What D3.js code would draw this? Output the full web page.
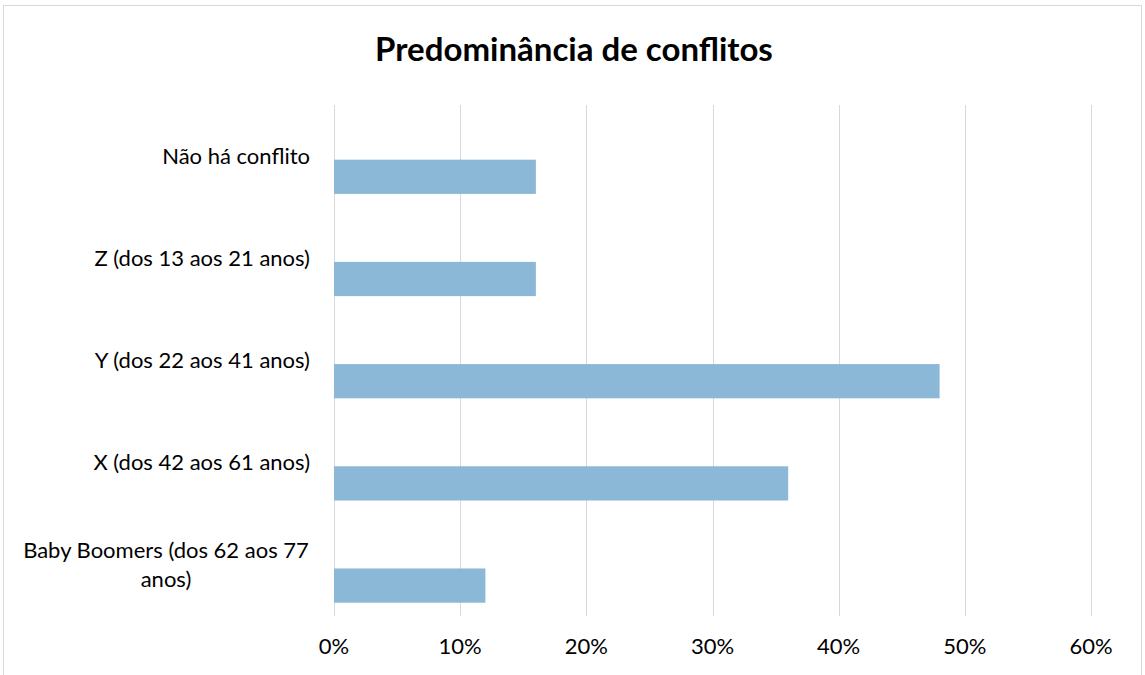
<!DOCTYPE html>
<html>
<head>
<meta charset="utf-8">
<script src="https://cdn.jsdelivr.net/npm/d3@7"></script>
<style>
  body { margin: 0; background: #fff; }
  text { font-family: Lato, "Open Sans", sans-serif; fill: #000; }
</style>
</head>
<body>
<div id="chart"></div>
<script>
var categories = [
  "Não há conflito",
  "Z (dos 13 aos 21 anos)",
  "Y (dos 22 aos 41 anos)",
  "X (dos 42 aos 61 anos)",
  "Baby Boomers (dos 62 aos 77 anos)"
]
var values = [0.16, 0.16, 0.48, 0.36, 0.12]
var ticks = [0, 0.1, 0.2, 0.3, 0.4, 0.5, 0.6]
var title = "Predominância de conflitos"

var width = 1145,
  height = 675

var svg = d3.select("#chart")
  .append("svg")
  .attr("width", width)
  .attr("height", height)

// chart border
svg.append("rect")
  .attr("x", 3.5)
  .attr("y", 5.5)
  .attr("width", 1138)
  .attr("height", 690)
  .attr("fill", "none")
  .attr("stroke", "#d9d9d9")

svg.append("text")
  .attr("x", 574)
  .attr("y", 61)
  .attr("text-anchor", "middle")
  .style("font-size", "33px")
  .style("font-weight", "bold")
  .text(title)

var x = d3.scaleLinear().domain([0, 0.6]).range([334, 1091])
var y = d3.scaleBand().domain(categories).range([105, 616])

svg.selectAll(".grid")
  .data(ticks)
  .enter().append("line")
  .attr("class", "grid")
  .attr("x1", function(d) { return Math.round(x(d)) + 0.5 })
  .attr("x2", function(d) { return Math.round(x(d)) + 0.5 })
  .attr("y1", 105)
  .attr("y2", 616)
  .attr("stroke", "#d9d9d9")
  .attr("stroke-width", 1)

svg.selectAll(".tick-label")
  .data(ticks)
  .enter().append("text")
  .attr("class", "tick-label")
  .attr("x", function(d) { return x(d) })
  .attr("y", 654)
  .attr("text-anchor", "middle")
  .style("font-size", "22px")
  .text(d3.format(".0%"))

var bw = y.bandwidth()

svg.selectAll(".bar")
  .data(values)
  .enter().append("rect")
  .attr("class", "bar")
  .attr("x", x(0))
  .attr("y", function(d, i) { return y(categories[i]) + bw * 0.535 })
  .attr("width", function(d) { return x(d) - x(0) })
  .attr("height", bw * 0.335)
  .attr("fill", "#8ab8d6")

// category labels, wrapped like the original
var lines = {
  "Baby Boomers (dos 62 aos 77 anos)": ["Baby Boomers (dos 62 aos 77", "anos)"]
}

categories.forEach(function(c) {
  var ls = lines[c] || [c]
  var cy = y(c) + bw / 2
  var lh = 29
  var t = svg.append("text")
    .attr("text-anchor", ls.length > 1 ? "middle" : "end")
    .style("font-size", "22px")
  ls.forEach(function(l, k) {
    t.append("tspan")
      .attr("x", ls.length > 1 ? 166 : 310)
      .attr("y", cy + 7.5 + (k - (ls.length - 1) / 2) * lh)
      .text(l)
  })
})
</script>
</body>
</html>
